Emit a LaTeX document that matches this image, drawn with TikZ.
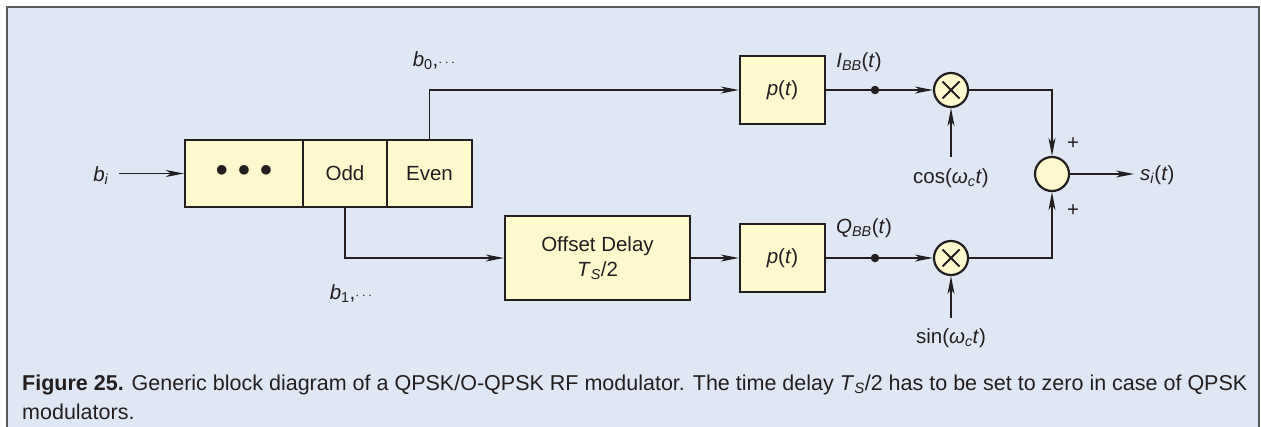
\documentclass[tikz,border=0pt]{standalone}
\usepackage{fontspec}
\setmainfont{Liberation Sans}
\usetikzlibrary{arrows.meta,calc}

\definecolor{panel}{HTML}{E0E7F4}
\definecolor{frameline}{HTML}{5A5A5A}
\definecolor{boxfill}{HTML}{FEF9CD}
\definecolor{ink}{HTML}{231F20}

\newcommand\ivar[1]{\textit{#1}}
\newcommand\isub[1]{\textsubscript{\textit{#1}}}
\newcommand\mdots{{\fontsize{15}{15}\selectfont$\cdots$}}

\tikzset{
  lbl/.style={font=\fontsize{20.5}{24}\selectfont, text=ink, inner sep=0pt},
  blk/.style={draw=ink, fill=boxfill, line width=2.4pt, rectangle, inner sep=0pt,
              lbl},
  mix/.style={draw=ink, fill=boxfill, line width=2.2pt, circle, inner sep=0pt,
              minimum size=34pt},
  wire/.style={draw=ink, line width=1.2pt},
  arr/.style={wire, -{Stealth[length=18pt,width=7pt,inset=5pt]}},
  joint/.style={circle, fill=ink, inner sep=0pt, minimum size=8.5pt},
}

\begin{document}
\begin{tikzpicture}[x=1pt,y=-1pt]
  \useasboundingbox (0,0) rectangle (1261,426);
  % panel
  \fill[panel] (7,7) rectangle (1259,430);
  \draw[frameline, line width=2pt] (7,430) -- (7,7) -- (1259,7) -- (1259,430);

  % shift register
  \node[blk, minimum width=118pt, minimum height=67pt] (cell) at (244,173.5)
    {\fontsize{26}{26}\selectfont\raisebox{0.18em}{$\bullet\,\bullet\,\bullet$}};
  \node[blk, minimum width=84pt, minimum height=67pt] (odd) at (345,173.5) {Odd};
  \node[blk, minimum width=85pt, minimum height=67pt] (even) at (429.5,173.5) {Even};

  % processing blocks
  \node[blk, minimum width=85pt, minimum height=68pt] (pt1) at (782.5,90) {\ivar{p}(\ivar{t})};
  \node[blk, minimum width=85pt, minimum height=68pt] (pt2) at (782.5,258) {\ivar{p}(\ivar{t})};
  \node[blk, minimum width=185pt, minimum height=84pt, align=center] (dly) at (597.5,258)
    {Offset Delay\\[1pt]\ivar{T}\isub{S}/2};

  % mixers and summer
  \node[mix] (m1) at (951,90) {};
  \node[mix] (m2) at (951,258) {};
  \node[mix] (sum) at (1052,174) {};
  \foreach \m in {m1,m2}{
    \draw[ink, line width=2pt] ($(\m)+(-8.5,-8.5)$) -- ($(\m)+(8.5,8.5)$);
    \draw[ink, line width=2pt] ($(\m)+(-8.5,8.5)$) -- ($(\m)+(8.5,-8.5)$);
  }

  % taps on the baseband lines
  \node[joint] (d1) at (875,90) {};
  \node[joint] (d2) at (875,258) {};

  % labels
  \node[lbl, anchor=base] (bi) at (101,181) {\ivar{b}\isub{i}};
  \node[lbl, anchor=base] (b0) at (434,66) {\ivar{b}\textsubscript{0},\mdots};
  \node[lbl, anchor=base] (b1) at (351,299) {\ivar{b}\textsubscript{1},\mdots};
  \node[lbl, anchor=base] (ibb) at (859,67) {\ivar{I}\isub{BB}(\ivar{t})};
  \node[lbl, anchor=base] (qbb) at (864,233) {\ivar{Q}\isub{BB}(\ivar{t})};
  \node[lbl, anchor=base] (cosl) at (951,183) {cos(\ivar{ω}\isub{c}\ivar{t})};
  \node[lbl, anchor=base] (sinl) at (951,343) {sin(\ivar{ω}\isub{c}\ivar{t})};
  \node[lbl, anchor=base west] (si) at (1140,180) {\ivar{s}\isub{i}(\ivar{t})};
  \node[lbl, anchor=center] (pa) at (1073,144) {+};
  \node[lbl, anchor=center] (pb) at (1073,211) {+};

  % free ends of connectors
  \coordinate (bin) at (119,173.5);
  \coordinate (c1) at (951,157);
  \coordinate (c2) at (951,318);
  \coordinate (out) at (1134,174);

  % connectors
  \draw[arr] (bin) -- (cell.west);
  \draw[arr] (even.north) |- (pt1.west);
  \draw[arr] (odd.south) |- (dly.west);
  \draw[arr] (dly.east) -- (pt2.west);
  \draw[wire] (pt1.east) -- (d1.center);
  \draw[wire] (pt2.east) -- (d2.center);
  \draw[arr] (d1.center) -- (m1.west);
  \draw[arr] (d2.center) -- (m2.west);
  \draw[arr] (c1) -- (m1.south);
  \draw[arr] (c2) -- (m2.south);
  \draw[arr] (m1.east) -| (sum.north);
  \draw[arr] (m2.east) -| (sum.south);
  \draw[arr] (sum.east) -- (out);

  % caption (base anchor sits on the last line)
  \node[anchor=base west, inner sep=0pt, align=left, text=ink,
        font=\fontsize{21.5}{29}\selectfont] (cap) at (22,419)
    {\textbf{Figure 25.} Generic block diagram of a QPSK/O-QPSK RF modulator. The time delay \ivar{T}\isub{S}/2 has to be set to zero in case of QPSK\\modulators.};
\end{tikzpicture}
\end{document}
